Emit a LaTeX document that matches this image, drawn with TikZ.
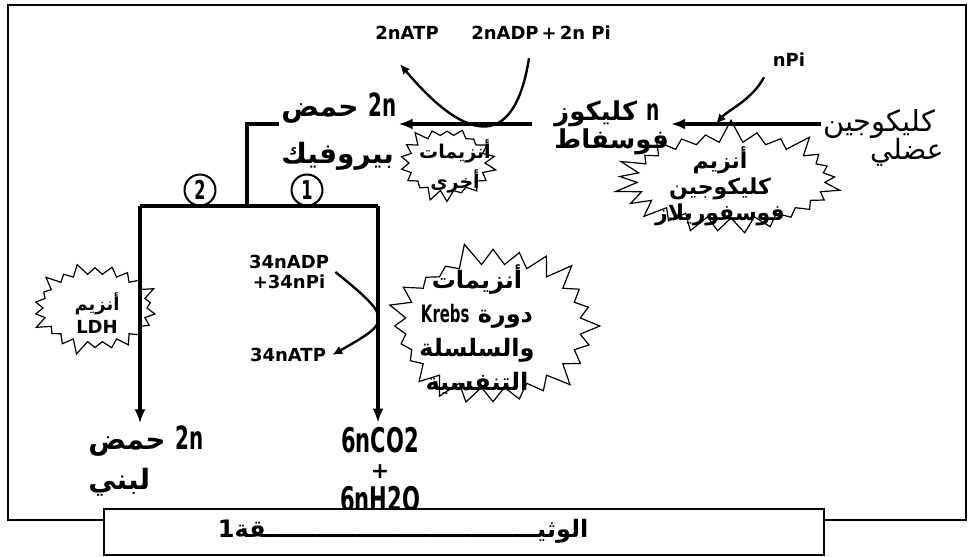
\documentclass[tikz,border=0pt]{standalone}
\usepackage{fontspec}
\usepackage{graphicx}
\usetikzlibrary{arrows.meta,shapes.symbols}
\setmainfont{DejaVu Sans}
\newfontfamily\arabicfont[Script=Arabic]{DejaVu Sans}
\newfontfamily\narrowfont[FakeStretch=0.62]{DejaVu Sans}
\TeXXeTstate=1
\newcommand{\artxt}[1]{{\arabicfont\beginR #1\endR}}

\begin{document}
\begin{tikzpicture}[
    x=0.5pt, y=-0.5pt,
    font=\bfseries,
    >={Latex[length=7pt,width=5.5pt]},
    small/.style={font=\fontsize{9}{11}\selectfont\bfseries,inner sep=1pt},
    biglbl/.style={font=\fontsize{14}{23.5}\selectfont\bfseries,inner sep=1pt},
    enz/.style={font=\fontsize{11}{13}\selectfont\bfseries,inner sep=0pt,align=center},
    burst/.style={starburst,draw,fill=white,line width=0.6pt,inner sep=0pt},
    num/.style={circle,draw,line width=1pt,minimum size=15.5pt,inner sep=0pt,
      font=\fontsize{13}{13}\selectfont\narrowfont\bfseries},
    prodlbl/.style={font=\fontsize{17}{17}\selectfont\narrowfont\bfseries,inner sep=0pt},
    flow/.style={line width=1.6pt},
    arr/.style={->,line width=1.6pt},
    curv/.style={-{Latex[length=5pt,width=4.5pt]},line width=1.2pt}
  ]
  \useasboundingbox (0,0) rectangle (978,556);
  \draw[line width=1pt] (8,5) rectangle (966,520);

  % enzymes
  \node[burst,starburst points=18,starburst point height=6pt,random starburst=3,
    minimum width=50pt,minimum height=40pt] (oth) at (447,163) {};
  \node[burst,starburst points=25,starburst point height=12pt,random starburst=7,
    minimum width=118pt,minimum height=62pt] (gp) at (731,180) {};
  \node[burst,starburst points=24,starburst point height=12pt,random starburst=5,
    minimum width=112pt,minimum height=86pt] (krb) at (493,326) {};
  \node[burst,starburst points=22,starburst point height=7pt,random starburst=9,
    minimum width=66pt,minimum height=48pt] (ldh) at (95,308) {};

  \node[enz,font=\fontsize{9.5}{15}\selectfont\bfseries] (othtxt) at (455,166)
    {\artxt{أنزيمات}\\\artxt{أخرى}};
  \node[enz] (gptxt) at (720,186)
    {\artxt{أنزيم}\\\artxt{كليكوجين}\\\artxt{فوسفوريلاز}};
  \node[enz,font=\fontsize{12}{17}\selectfont\bfseries] (krbtxt) at (477,330)
    {\artxt{أنزيمات}\\{\narrowfont Krebs} \artxt{دورة}\\\artxt{والسلسلة}\\\artxt{التنفسية}};
  \node[enz,font=\fontsize{9}{11.5}\selectfont\bfseries] (ldhtxt) at (97,313)
    {\artxt{أنزيم}\\LDH};

  % labels
  \node[small] (atp2) at (407,33) {2nATP};
  \node[small] (adp2) at (541,33) {2nADP\,+\,2n Pi};
  \node[small] (npi) at (789,60) {nPi};
  \node[font=\fontsize{14.5}{16}\selectfont,inner sep=1pt] (glyc) at (879,124) {\artxt{كليكوجين}};
  \node[font=\fontsize{14}{16}\selectfont,inner sep=1pt,anchor=east] (musc) at (946,152) {\artxt{عضلي}};
  \node[biglbl,font=\fontsize{13}{14}\selectfont\bfseries,align=left,anchor=west] (g1p) at (552,128)
    {\artxt{كليكوز} {\narrowfont\fontsize{15}{14}\selectfont n}\\\artxt{فوسفاط}};
  \node[biglbl,align=left,anchor=west] (pyr) at (279,132)
    {\artxt{حمض} {\narrowfont\fontsize{16}{23.5}\selectfont 2n}\\\artxt{بيروفيك}};
  \node[biglbl,font=\fontsize{14}{20}\selectfont\bfseries,align=left,anchor=west] (lac) at (86,461)
    {\artxt{حمض} {\narrowfont\fontsize{16}{20}\selectfont 2n}\\\artxt{لبني}};
  \node[prodlbl] (prod) at (380,440) {6nCO2};
  \node[prodlbl,font=\fontsize{11}{11}\selectfont\bfseries] (plus) at (380,472) {+};
  \node[prodlbl] (water) at (380,499) {6nH2O};
  \node[small,align=center,font=\fontsize{9}{10}\selectfont\bfseries] (adp34) at (289,272) {34nADP\\+34nPi};
  \node[small] (atp34) at (288,355) {34nATP};

  \node[num] (two) at (200,190) {2};
  \node[num] (one) at (307,190) {1};

  % pathway
  \coordinate (jn) at (247,206);
  \coordinate (lft) at (140,206);
  \coordinate (rgt) at (378,206);
  \coordinate (npiend) at (716,124);
  \draw[arr] (glyc.west) -- (glyc.west -| g1p.east);
  \draw[arr] ([xshift=-10pt]g1p.west |- glyc.west) -- (glyc.west -| pyr.east);
  \draw[flow] (glyc.west -| pyr.west) -| (jn);
  \draw[flow] (lft) -- (rgt);
  \draw[arr] (lft) -- (lft |- lac.north);
  \draw[arr] (rgt) -- ([yshift=2pt]rgt |- prod.north);

  \draw[curv] ([xshift=-6pt,yshift=-8pt]adp2.south) .. controls (515,147) and (470,147)
    .. ([xshift=-3.5pt,yshift=-11pt]atp2.south);
  \draw[curv] ([xshift=-12.5pt,yshift=-4pt]npi.south) .. controls (752,100) and (728,110) .. (npiend);
  \draw[curv] ([xshift=2pt]adp34.east) .. controls (395,320) and (390,322) .. ([xshift=2pt]atp34.east);

  % document title
  \node[draw,fill=white,line width=1pt,minimum width=360pt,minimum height=23pt] (doc) at (464,532) {};
  \node[font=\fontsize{12}{12}\selectfont\bfseries,inner sep=0pt] (doctxt) at (403,531)
    {1\artxt{الوثيـــــــــــــــــــــــــــــــــقة}};
\end{tikzpicture}
\end{document}
